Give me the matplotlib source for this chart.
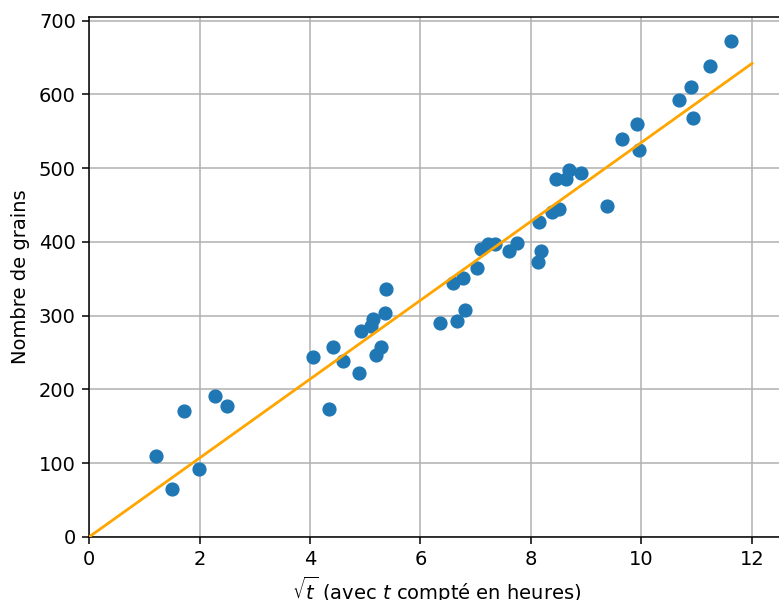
import matplotlib
matplotlib.use("Agg")
import matplotlib.pyplot as plt

# Données : racine du temps (h) et nombre de grains
sqrt_t = [1.21, 1.50, 1.72, 1.99, 2.28, 2.50,
          4.05, 4.34, 4.42, 4.60, 4.89, 4.92, 5.10, 5.14, 5.19, 5.29, 5.36, 5.38,
          6.35, 6.66, 6.59, 6.77, 6.81, 7.02, 7.10, 7.22, 7.35, 7.60, 7.75,
          8.13, 8.18, 8.14, 8.38, 8.45, 8.51, 8.63, 8.69, 8.90,
          9.38, 9.65, 9.92, 9.95, 10.68, 10.90, 10.93, 11.24, 11.62]
grains = [110, 65, 171, 92, 191, 178,
          244, 174, 258, 239, 222, 279, 286, 296, 247, 258, 304, 336,
          290, 293, 345, 351, 308, 365, 391, 397, 397, 388, 399,
          373, 388, 427, 440, 486, 445, 486, 497, 494,
          449, 540, 560, 525, 592, 610, 568, 639, 672]

# Droite d'ajustement (passant par l'origine)
fit_x = [0, 12]
fit_y = [0, 642]

fig = plt.figure(figsize=(7.79, 6), dpi=100)
ax = fig.add_axes([89 / 779, 63 / 600, 12.6 * 55.25 / 779, 520 / 600])

ax.scatter(sqrt_t, grains, s=85, color="#1f77b4", zorder=3)
ax.plot(fit_x, fit_y, color="orange", linewidth=2, zorder=4)

ax.set_xlim(0, 12.6)
ax.set_ylim(0, 705)
ax.set_xticks(range(0, 13, 2))
ax.set_yticks(range(0, 701, 100))
ax.grid(True, color="#b0b0b0", linewidth=1.1)
ax.set_axisbelow(True)
for sp in ax.spines.values():
    sp.set_linewidth(1.1)
ax.tick_params(labelsize=14, length=5, width=1.1, pad=4.5)

ax.set_xlabel(r"$\sqrt{t}$ (avec $t$ compté en heures)", fontsize=14, labelpad=4)
ax.set_ylabel("Nombre de grains", fontsize=14, labelpad=6)

fig.savefig("out.png", dpi=100)
